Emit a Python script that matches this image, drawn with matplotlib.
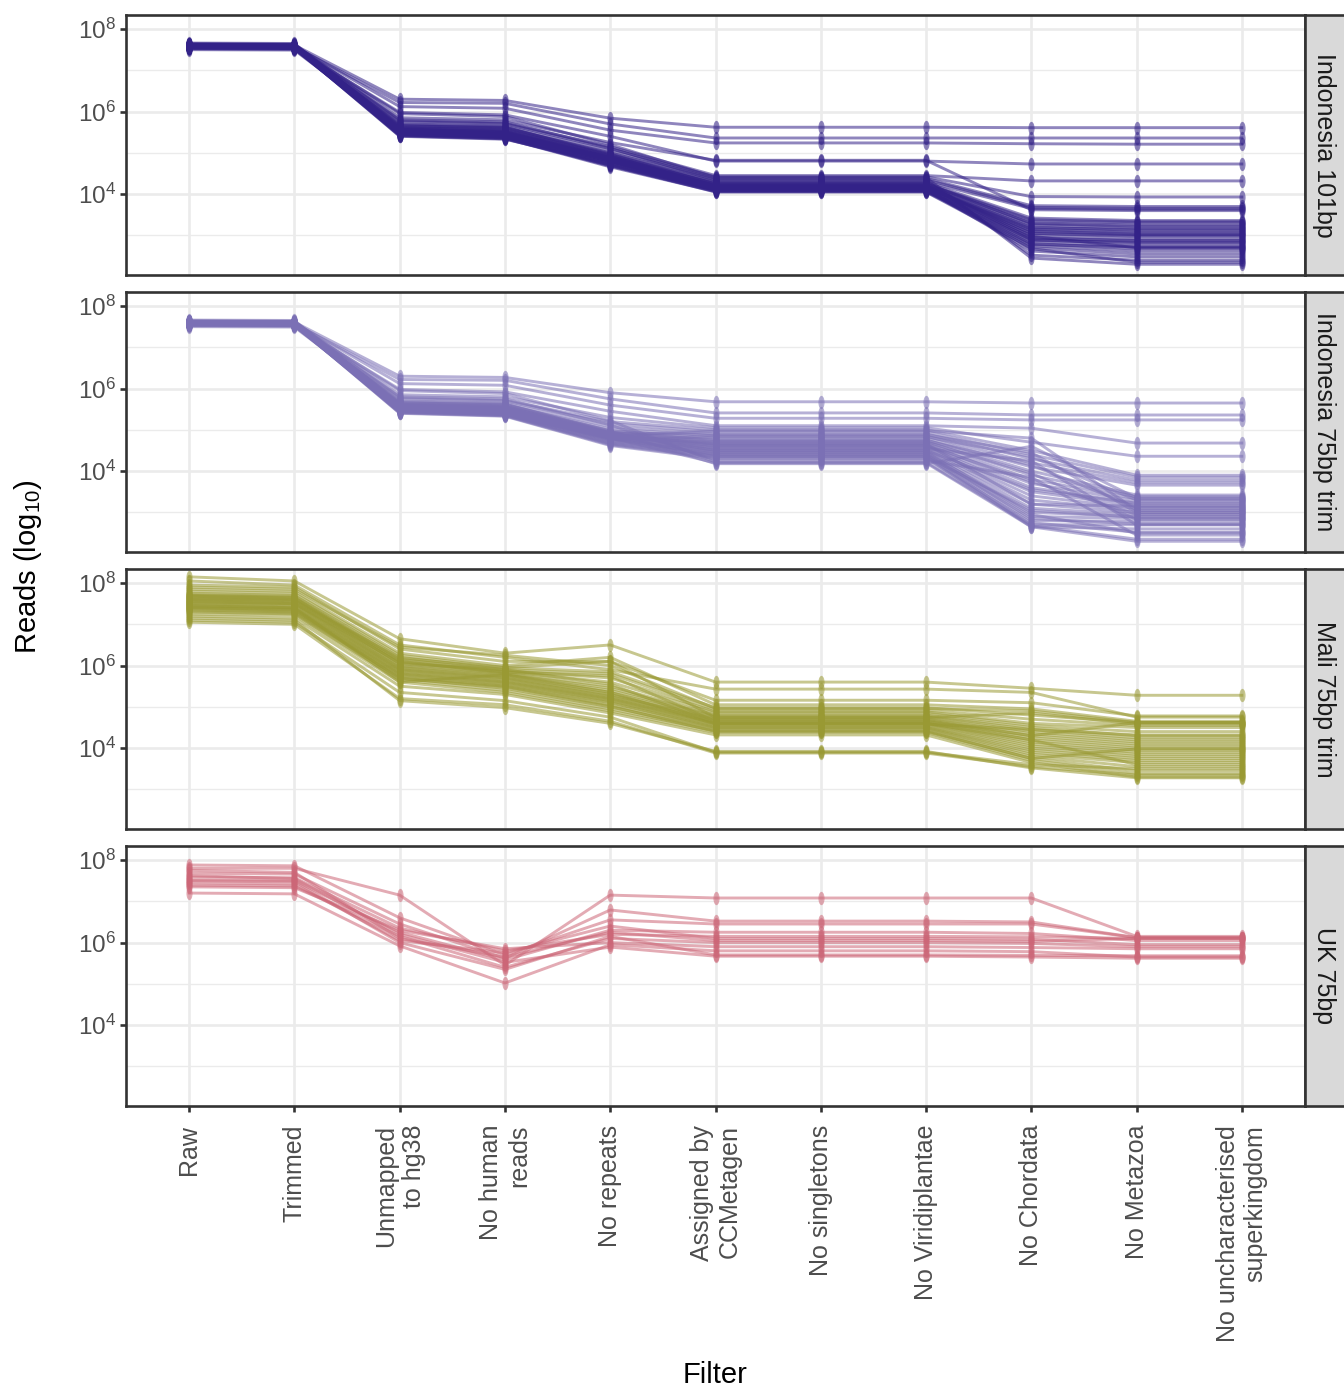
import numpy as np
import matplotlib.pyplot as plt
from matplotlib.path import Path
from matplotlib.transforms import Affine2D
from matplotlib.ticker import FixedLocator, NullFormatter

# --- Data: log10(reads) per sample, one value per filter step ---
filters = ["Raw", "Trimmed", "Unmapped\nto hg38", "No human\nreads", "No repeats",
           "Assigned by\nCCMetagen", "No singletons", "No Viridiplantae",
           "No Chordata", "No Metazoa", "No uncharacterised\nsuperkingdom"]

datasets = ["Indonesia 101bp", "Indonesia 75bp trim", "Mali 75bp trim", "UK 75bp"]
colours = ["#332288", "#7B70B5", "#999933", "#CC6677"]

indo101_log_reads = [
    [7.62, 7.61, 6.30, 6.27, 5.84, 5.62, 5.62, 5.62, 5.61, 5.61, 5.61],
    [7.58, 7.57, 6.22, 6.20, 5.70, 5.36, 5.36, 5.36, 5.36, 5.36, 5.36],
    [7.60, 7.59, 6.12, 6.08, 5.55, 5.24, 5.24, 5.24, 5.22, 5.21, 5.21],
    [7.55, 7.54, 5.98, 5.92, 5.40, 4.80, 4.80, 4.80, 4.73, 4.73, 4.73],
    [7.63, 7.62, 5.85, 5.80, 5.25, 4.82, 4.82, 4.82, 3.62, 3.60, 3.60],
    [7.57, 7.56, 5.78, 5.72, 5.15, 4.45, 4.45, 4.45, 4.32, 4.32, 4.32],
    [7.61, 7.60, 5.75, 5.70, 5.10, 4.42, 4.42, 4.42, 3.94, 3.93, 3.93],
    [7.54, 7.53, 5.70, 5.65, 5.05, 4.38, 4.38, 4.38, 3.72, 3.70, 3.70],
    [7.59, 7.58, 5.66, 5.60, 5.00, 4.35, 4.35, 4.35, 3.68, 3.66, 3.66],
    [7.64, 7.63, 5.62, 5.58, 4.98, 4.30, 4.30, 4.30, 3.65, 3.63, 3.63],
    [7.52, 7.51, 5.60, 5.55, 4.95, 4.28, 4.28, 4.28, 3.42, 3.36, 3.36],
    [7.66, 7.65, 5.58, 5.52, 4.92, 4.25, 4.25, 4.25, 3.38, 3.33, 3.33],
    [7.50, 7.49, 5.57, 5.50, 4.90, 4.22, 4.22, 4.22, 3.30, 3.25, 3.25],
    [7.56, 7.55, 5.55, 5.48, 4.88, 4.20, 4.20, 4.20, 3.25, 3.18, 3.18],
    [7.61, 7.60, 5.53, 5.47, 4.85, 4.18, 4.18, 4.18, 3.20, 3.12, 3.12],
    [7.58, 7.57, 5.52, 5.45, 4.83, 4.16, 4.16, 4.16, 3.15, 3.08, 3.08],
    [7.62, 7.61, 5.50, 5.44, 4.80, 4.15, 4.15, 4.15, 3.10, 3.02, 3.02],
    [7.53, 7.52, 5.49, 5.42, 4.78, 4.13, 4.13, 4.13, 3.05, 2.98, 2.98],
    [7.60, 7.59, 5.48, 5.41, 4.76, 4.12, 4.12, 4.12, 3.00, 2.92, 2.92],
    [7.57, 7.56, 5.46, 5.40, 4.74, 4.10, 4.10, 4.10, 2.95, 2.86, 2.86],
    [7.64, 7.63, 5.45, 5.38, 4.72, 4.09, 4.09, 4.09, 2.90, 2.80, 2.80],
    [7.55, 7.54, 5.44, 5.37, 4.70, 4.08, 4.08, 4.08, 2.85, 2.74, 2.74],
    [7.59, 7.58, 5.43, 5.36, 4.68, 4.07, 4.07, 4.07, 2.80, 2.68, 2.68],
    [7.61, 7.60, 5.42, 5.35, 4.66, 4.06, 4.06, 4.06, 2.75, 2.62, 2.62],
    [7.56, 7.55, 5.41, 5.34, 4.70, 4.05, 4.05, 4.05, 2.70, 2.55, 2.55],
    [7.58, 7.57, 5.40, 5.33, 4.75, 4.11, 4.11, 4.11, 2.62, 2.48, 2.48],
    [7.60, 7.59, 5.80, 5.75, 5.12, 4.33, 4.33, 4.33, 2.52, 2.40, 2.40],
    [7.57, 7.56, 5.95, 5.88, 5.20, 4.40, 4.40, 4.40, 2.45, 2.30, 2.30],
    [7.63, 7.62, 5.65, 5.62, 4.97, 4.24, 4.24, 4.24, 3.35, 3.30, 3.30],
    [7.59, 7.58, 5.68, 5.63, 4.93, 4.19, 4.19, 4.19, 3.05, 3.00, 3.00],
    [7.54, 7.53, 5.47, 5.43, 4.82, 4.14, 4.14, 4.14, 2.88, 2.83, 2.83],
    [7.62, 7.61, 5.51, 5.46, 4.87, 4.17, 4.17, 4.17, 3.18, 3.15, 3.15],
    [7.58, 7.57, 5.56, 5.51, 4.89, 4.21, 4.21, 4.21, 2.98, 2.70, 2.70],
    [7.60, 7.59, 5.59, 5.53, 4.91, 4.26, 4.26, 4.26, 3.28, 3.22, 3.22],
    [7.56, 7.55, 5.44, 5.39, 4.79, 4.12, 4.12, 4.12, 2.78, 2.72, 2.72],
    [7.61, 7.60, 5.54, 5.49, 4.84, 4.16, 4.16, 4.16, 3.12, 3.05, 3.05],
    [7.59, 7.58, 5.61, 5.56, 4.86, 4.20, 4.20, 4.20, 2.92, 2.88, 2.88],
    [7.57, 7.56, 5.50, 5.45, 4.81, 4.10, 4.10, 4.10, 2.68, 2.35, 2.35],
]

indo75_log_reads = [
    [7.62, 7.61, 6.30, 6.27, 5.90, 5.68, 5.68, 5.68, 5.65, 5.65, 5.65],
    [7.58, 7.57, 6.22, 6.20, 5.75, 5.41, 5.41, 5.41, 5.36, 5.36, 5.36],
    [7.60, 7.59, 6.12, 6.08, 5.60, 5.28, 5.28, 5.28, 5.24, 5.24, 5.24],
    [7.55, 7.54, 5.98, 5.92, 5.45, 5.10, 5.10, 5.10, 5.04, 4.68, 4.68],
    [7.63, 7.62, 5.85, 5.80, 5.30, 5.05, 5.05, 5.05, 4.70, 4.36, 4.36],
    [7.57, 7.56, 5.78, 5.72, 5.20, 5.00, 5.00, 5.00, 4.50, 3.90, 3.90],
    [7.61, 7.60, 5.75, 5.70, 5.15, 4.95, 4.95, 4.95, 4.40, 3.85, 3.85],
    [7.54, 7.53, 5.70, 5.65, 5.08, 4.90, 4.90, 4.90, 4.30, 3.78, 3.78],
    [7.59, 7.58, 5.66, 5.60, 5.02, 4.85, 4.85, 4.85, 4.20, 3.72, 3.72],
    [7.64, 7.63, 5.62, 5.58, 4.98, 4.80, 4.80, 4.80, 4.10, 3.66, 3.66],
    [7.52, 7.51, 5.60, 5.55, 4.95, 4.76, 4.76, 4.76, 4.00, 3.42, 3.42],
    [7.66, 7.65, 5.58, 5.52, 4.92, 4.72, 4.72, 4.72, 3.90, 3.38, 3.38],
    [7.50, 7.49, 5.57, 5.50, 4.90, 4.68, 4.68, 4.68, 3.80, 3.33, 3.33],
    [7.56, 7.55, 5.55, 5.48, 4.88, 4.65, 4.65, 4.65, 3.70, 3.28, 3.28],
    [7.61, 7.60, 5.53, 5.47, 4.85, 4.62, 4.62, 4.62, 3.60, 3.22, 3.22],
    [7.58, 7.57, 5.52, 5.45, 4.83, 4.60, 4.60, 4.60, 3.50, 3.16, 3.16],
    [7.62, 7.61, 5.50, 5.44, 4.80, 4.57, 4.57, 4.57, 3.40, 3.10, 3.10],
    [7.53, 7.52, 5.49, 5.42, 4.78, 4.54, 4.54, 4.54, 3.30, 3.05, 3.05],
    [7.60, 7.59, 5.48, 5.41, 4.76, 4.51, 4.51, 4.51, 3.20, 3.00, 3.00],
    [7.57, 7.56, 5.46, 5.40, 4.74, 4.48, 4.48, 4.48, 3.10, 2.95, 2.95],
    [7.64, 7.63, 5.45, 5.38, 4.72, 4.45, 4.45, 4.45, 3.00, 2.90, 2.90],
    [7.55, 7.54, 5.44, 5.37, 4.70, 4.42, 4.42, 4.42, 2.90, 2.85, 2.85],
    [7.59, 7.58, 5.43, 5.36, 4.68, 4.39, 4.39, 4.39, 2.80, 2.78, 2.78],
    [7.61, 7.60, 5.42, 5.35, 4.66, 4.36, 4.36, 4.36, 2.70, 2.70, 2.70],
    [7.56, 7.55, 5.41, 5.34, 4.64, 4.33, 4.33, 4.33, 2.65, 2.60, 2.60],
    [7.58, 7.57, 5.40, 5.33, 4.62, 4.30, 4.30, 4.30, 2.75, 2.52, 2.52],
    [7.60, 7.59, 5.80, 5.75, 5.12, 4.26, 4.26, 4.26, 3.85, 2.45, 2.45],
    [7.57, 7.56, 5.95, 5.88, 5.22, 4.22, 4.22, 4.22, 2.68, 2.35, 2.35],
    [7.63, 7.62, 5.65, 5.62, 4.97, 4.18, 4.18, 4.18, 4.60, 3.35, 3.35],
    [7.59, 7.58, 5.68, 5.63, 4.93, 4.88, 4.88, 4.88, 4.45, 3.00, 3.00],
    [7.54, 7.53, 5.47, 5.43, 4.82, 4.70, 4.70, 4.70, 3.95, 2.83, 2.83],
    [7.62, 7.61, 5.51, 5.46, 4.87, 4.66, 4.66, 4.66, 3.20, 3.15, 3.15],
    [7.58, 7.57, 5.56, 5.51, 4.89, 4.55, 4.55, 4.55, 4.25, 2.70, 2.70],
    [7.60, 7.59, 5.59, 5.53, 4.91, 4.50, 4.50, 4.50, 3.55, 3.22, 3.22],
    [7.56, 7.55, 5.44, 5.39, 4.79, 4.40, 4.40, 4.40, 2.85, 2.72, 2.72],
    [7.61, 7.60, 5.54, 5.49, 4.84, 4.98, 4.98, 4.98, 4.80, 3.05, 3.05],
    [7.59, 7.58, 5.61, 5.56, 4.86, 4.35, 4.35, 4.35, 3.05, 2.88, 2.88],
    [7.57, 7.56, 5.50, 5.45, 4.81, 4.20, 4.20, 4.20, 2.65, 2.30, 2.30],
    [7.55, 7.54, 5.46, 5.41, 4.77, 4.83, 4.83, 4.83, 4.35, 3.30, 3.30],
    [7.62, 7.61, 5.58, 5.54, 4.90, 4.62, 4.62, 4.62, 3.75, 2.95, 2.95],
    [7.58, 7.57, 5.52, 5.47, 4.85, 4.46, 4.46, 4.46, 2.95, 2.50, 2.50],
    [7.60, 7.59, 5.63, 5.57, 4.94, 4.74, 4.74, 4.74, 4.15, 3.12, 3.12],
]

mali75_log_reads = [
    [8.15, 8.05, 6.65, 6.30, 6.50, 5.60, 5.60, 5.60, 5.45, 5.28, 5.28],
    [8.05, 7.95, 6.50, 6.20, 5.90, 5.43, 5.43, 5.43, 5.35, 4.75, 4.75],
    [7.95, 7.90, 6.40, 6.10, 6.10, 5.16, 5.16, 5.16, 5.10, 4.78, 4.78],
    [7.85, 7.80, 6.30, 6.00, 6.20, 5.05, 5.05, 5.05, 4.95, 4.65, 4.65],
    [7.80, 7.75, 6.25, 5.95, 5.85, 4.98, 4.98, 4.98, 4.80, 4.62, 4.62],
    [7.75, 7.70, 6.20, 5.90, 5.80, 4.92, 4.92, 4.92, 4.70, 4.55, 4.55],
    [7.72, 7.68, 6.15, 5.88, 5.70, 4.88, 4.88, 4.88, 4.60, 4.50, 4.50],
    [7.70, 7.65, 6.12, 5.85, 5.60, 4.85, 4.85, 4.85, 4.55, 4.40, 4.40],
    [7.68, 7.62, 6.10, 5.82, 5.50, 4.80, 4.80, 4.80, 4.50, 4.30, 4.30],
    [7.65, 7.60, 6.05, 5.80, 5.45, 4.78, 4.78, 4.78, 4.45, 4.25, 4.25],
    [7.62, 7.58, 6.00, 5.78, 5.40, 4.75, 4.75, 4.75, 4.40, 4.20, 4.20],
    [7.60, 7.55, 5.98, 5.75, 5.35, 4.72, 4.72, 4.72, 4.35, 4.15, 4.15],
    [7.58, 7.52, 5.95, 5.72, 5.30, 4.70, 4.70, 4.70, 4.30, 4.10, 4.10],
    [7.55, 7.50, 5.92, 5.70, 5.28, 4.68, 4.68, 4.68, 4.25, 4.05, 4.05],
    [7.52, 7.48, 5.90, 5.68, 5.25, 4.65, 4.65, 4.65, 4.20, 4.00, 4.00],
    [7.50, 7.45, 5.88, 5.65, 5.22, 4.62, 4.62, 4.62, 4.15, 3.95, 3.95],
    [7.48, 7.42, 5.85, 5.62, 5.20, 4.60, 4.60, 4.60, 4.10, 3.90, 3.90],
    [7.45, 7.40, 5.82, 5.60, 5.18, 4.58, 4.58, 4.58, 4.05, 3.85, 3.85],
    [7.42, 7.38, 5.80, 5.58, 5.15, 4.55, 4.55, 4.55, 4.00, 3.80, 3.80],
    [7.40, 7.35, 5.78, 5.55, 5.12, 4.52, 4.52, 4.52, 3.95, 3.75, 3.75],
    [7.38, 7.32, 5.75, 5.52, 5.10, 4.50, 4.50, 4.50, 3.90, 3.70, 3.70],
    [7.35, 7.30, 5.72, 5.50, 5.05, 4.48, 4.48, 4.48, 3.85, 3.65, 3.65],
    [7.32, 7.28, 5.70, 5.45, 5.00, 4.45, 4.45, 4.45, 3.80, 3.55, 3.55],
    [7.30, 7.25, 5.65, 5.40, 4.95, 4.42, 4.42, 4.42, 3.75, 3.45, 3.45],
    [7.25, 7.22, 5.60, 5.35, 4.90, 4.38, 4.38, 4.38, 3.70, 3.38, 3.38],
    [7.20, 7.15, 5.50, 5.30, 4.85, 4.32, 4.32, 4.32, 3.65, 3.30, 3.30],
    [7.10, 7.05, 5.35, 5.15, 4.75, 3.90, 3.90, 3.90, 3.60, 3.50, 3.50],
    [7.05, 7.00, 5.20, 5.05, 4.65, 3.88, 3.88, 3.88, 3.55, 3.35, 3.35],
    [7.15, 7.10, 5.15, 4.98, 4.60, 3.92, 3.92, 3.92, 3.52, 3.28, 3.28],
    [7.90, 7.85, 6.45, 6.25, 6.00, 4.96, 4.96, 4.96, 4.90, 4.62, 4.62],
    [7.62, 7.57, 6.18, 5.95, 6.10, 4.74, 4.74, 4.74, 4.85, 4.58, 4.58],
    [7.55, 7.50, 6.08, 5.84, 5.75, 4.65, 4.65, 4.65, 4.30, 4.62, 4.62],
    [7.45, 7.40, 5.60, 5.78, 5.35, 4.58, 4.58, 4.58, 4.45, 4.32, 4.32],
    [7.68, 7.64, 6.05, 5.90, 5.55, 4.60, 4.60, 4.60, 4.20, 3.60, 3.60],
    [7.40, 7.36, 5.68, 5.48, 5.02, 4.40, 4.40, 4.40, 3.75, 3.98, 3.98],
]

uk75_log_reads = [
    [7.88, 7.86, 6.60, 5.70, 6.55, 6.45, 6.45, 6.45, 6.45, 6.12, 6.12],
    [7.80, 7.80, 7.15, 5.45, 7.15, 7.08, 7.08, 7.08, 7.08, 6.15, 6.15],
    [7.68, 7.66, 6.45, 5.62, 6.79, 6.52, 6.52, 6.52, 6.50, 6.12, 6.12],
    [7.59, 7.57, 6.35, 5.80, 6.20, 6.15, 6.15, 6.15, 6.14, 6.10, 6.10],
    [7.52, 7.50, 6.25, 5.58, 6.30, 6.25, 6.25, 6.25, 6.22, 6.05, 6.05],
    [7.45, 7.42, 6.05, 5.75, 6.40, 6.10, 6.10, 6.10, 6.08, 5.95, 5.95],
    [7.39, 7.37, 6.15, 5.40, 6.10, 6.00, 6.00, 6.00, 5.98, 5.90, 5.90],
    [7.35, 7.33, 6.30, 5.85, 6.00, 5.90, 5.90, 5.90, 5.88, 5.85, 5.85],
    [7.20, 7.18, 5.92, 5.02, 5.95, 5.80, 5.80, 5.80, 5.78, 5.65, 5.65],
    [7.62, 7.55, 6.20, 5.52, 5.89, 5.67, 5.67, 5.67, 5.65, 5.62, 5.62],
    [7.75, 7.70, 6.10, 5.65, 6.25, 6.05, 6.05, 6.05, 6.03, 6.10, 6.10],
    [7.50, 7.48, 6.00, 5.35, 6.15, 5.70, 5.70, 5.70, 5.69, 5.68, 5.68],
]

panel_data = [indo101_log_reads, indo75_log_reads, mali75_log_reads, uk75_log_reads]

# --- Plotting ---
plt.rcParams['font.family'] = ['Liberation Sans', 'DejaVu Sans']
plt.rcParams['mathtext.fontset'] = 'custom'
plt.rcParams['mathtext.rm'] = 'Liberation Sans'
plt.rcParams['mathtext.it'] = 'Liberation Sans:italic'

W, H = 1344, 1387
fig = plt.figure(figsize=(W / 100, H / 100), dpi=100)

panel_left, panel_right, panel_h = 126, 1305, 260
panel_tops = [15, 292, 569, 846]

# tall narrow ellipse used as the point marker
ellipse = Path.unit_circle().transformed(Affine2D().scale(0.46, 1.0))
xs = np.arange(1, len(filters) + 1)

for i, (name, colour, rows) in enumerate(zip(datasets, colours, panel_data)):
    top = panel_tops[i]
    ax = fig.add_axes([panel_left / W, 1 - (top + panel_h) / H,
                       (panel_right - panel_left) / W, panel_h / H])

    for row in rows:
        ax.plot(xs, 10 ** np.array(row), color=colour, alpha=0.55, lw=2.1,
                marker=ellipse, ms=9.6, mew=0, solid_joinstyle='round')

    ax.set_yscale('log')
    ax.set_ylim(10 ** 2.04, 10 ** 8.34)
    ax.set_xlim(0.4, len(filters) + 0.6)
    ax.set_yticks([1e4, 1e6, 1e8])
    ax.set_yticklabels([r'$10^{4}$', r'$10^{6}$', r'$10^{8}$'])
    ax.yaxis.set_minor_locator(FixedLocator([1e3, 1e5, 1e7]))
    ax.yaxis.set_minor_formatter(NullFormatter())
    ax.set_xticks(xs)

    ax.set_axisbelow(True)
    ax.grid(True, which='major', color='#EBEBEB', lw=1.9)
    ax.grid(True, which='minor', axis='y', color='#EBEBEB', lw=1.0)
    for sp in ax.spines.values():
        sp.set_color('#333333')
        sp.set_linewidth(1.9)

    ax.tick_params(axis='y', which='major', length=4, width=1.9, color='#333333',
                   labelsize=17.5, labelcolor='#4D4D4D', pad=3)
    ax.tick_params(axis='y', which='minor', length=0)

    if i < len(datasets) - 1:
        ax.tick_params(axis='x', length=0, labelbottom=False)
    else:
        ax.tick_params(axis='x', length=4.5, width=1.9, color='#333333', pad=9)
        ax.set_xticklabels(filters, rotation=90, fontsize=18, color='#4D4D4D',
                           ha='center', va='top', multialignment='right')

    # facet strip on the right
    strip = fig.add_axes([panel_right / W, 1 - (top + panel_h) / H,
                          45 / W, panel_h / H])
    strip.set_facecolor('#D9D9D9')
    strip.set_xticks([])
    strip.set_yticks([])
    for sp in strip.spines.values():
        sp.set_color('#333333')
        sp.set_linewidth(1.9)
    strip.text(0.42, 0.5, name, rotation=-90, ha='center', va='center',
               fontsize=18, color='#1A1A1A', transform=strip.transAxes)

fig.text(28 / W, 1 - 567 / H, r'Reads (log$_{10}$)', rotation=90,
         ha='center', va='center', fontsize=21)
fig.text((panel_left + panel_right) / 2 / W, 1 - 1375 / H, 'Filter',
         ha='center', va='center', fontsize=21)

fig.savefig('out.png', dpi=100)
